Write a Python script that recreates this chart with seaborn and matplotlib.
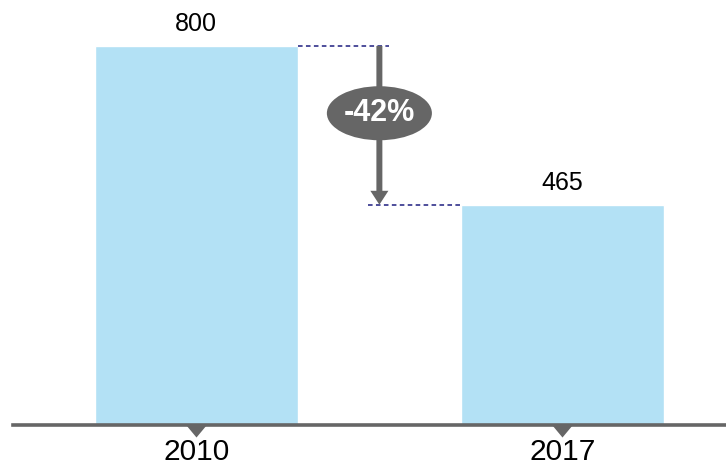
import matplotlib
matplotlib.use("Agg")
import matplotlib.pyplot as plt
from matplotlib.patches import Ellipse
from matplotlib.path import Path
import seaborn as sns
import pandas as pd

years = ["2010", "2017"]
values = [800, 465]

sns.set_style("white")
plt.rcParams["font.family"] = ["Liberation Sans", "DejaVu Sans"]

BAR_COLOR = "#B3E1F5"
GRAY = "#666666"
NAVY = "#1E1E80"
BAR_W = 0.555

df = pd.DataFrame({"year": years, "value": values})

fig = plt.figure(figsize=(7.26, 4.68), dpi=100)
ax = fig.add_axes([13 / 726, 43 / 468, 1 - 13 / 726, 425 / 468])
sns.barplot(data=df, x="year", y="value", color=BAR_COLOR, saturation=1,
            width=BAR_W, ax=ax, zorder=2)

ax.set_xlim(-0.501, 1.447)
ax.set_ylim(0, 897)
for s in ["top", "left", "right"]:
    ax.spines[s].set_visible(False)
ax.spines["bottom"].set_color(GRAY)
ax.spines["bottom"].set_linewidth(2.6)
ax.spines["bottom"].set_zorder(3)
ax.set_xlabel("")
ax.set_ylabel("")
ax.set_yticks([])
ax.tick_params(axis="x", length=0, pad=9, labelsize=21.5, labelcolor="black")

# value labels
ax.bar_label(ax.containers[0], labels=[str(v) for v in values],
             padding=7, fontsize=18, color="black")

# tick triangles below axis
tri = Path([(-1, 0), (1, 0), (0, -1.2), (-1, 0)],
           [Path.MOVETO, Path.LINETO, Path.LINETO, Path.CLOSEPOLY])
ax.plot([0, 1], [0, 0], linestyle="none", marker=tri, markersize=17.3,
        color=GRAY, markeredgewidth=0, clip_on=False, zorder=4)

# dashed guide lines
half = BAR_W / 2
mid = 0.5
ax.plot([0 + half, mid + 0.026], [values[0], values[0]], color=NAVY,
        lw=1.1, linestyle=(0, (3, 2.2)), zorder=3)
ax.plot([mid - 0.031, 1 - half], [values[1], values[1]], color=NAVY,
        lw=1.1, linestyle=(0, (3, 2.2)), zorder=3)

# arrow
ax.annotate("", xy=(mid, values[1]), xytext=(mid, values[0]),
            arrowprops=dict(arrowstyle="simple,head_length=10,head_width=13,tail_width=4.3",
                            mutation_scale=1, color=GRAY, lw=0,
                            shrinkA=0, shrinkB=0), zorder=4)

# ellipse label
pct = round((values[1] - values[0]) / values[0] * 100)
ecy = 658
ax.add_patch(Ellipse((mid, ecy), width=0.287, height=114, facecolor=GRAY,
                     edgecolor="none", zorder=5))
ax.text(mid, ecy, f"{pct}%", color="white", fontsize=22, fontweight="bold",
        ha="center", va="center", zorder=6)

fig.savefig("out.png", dpi=100)
